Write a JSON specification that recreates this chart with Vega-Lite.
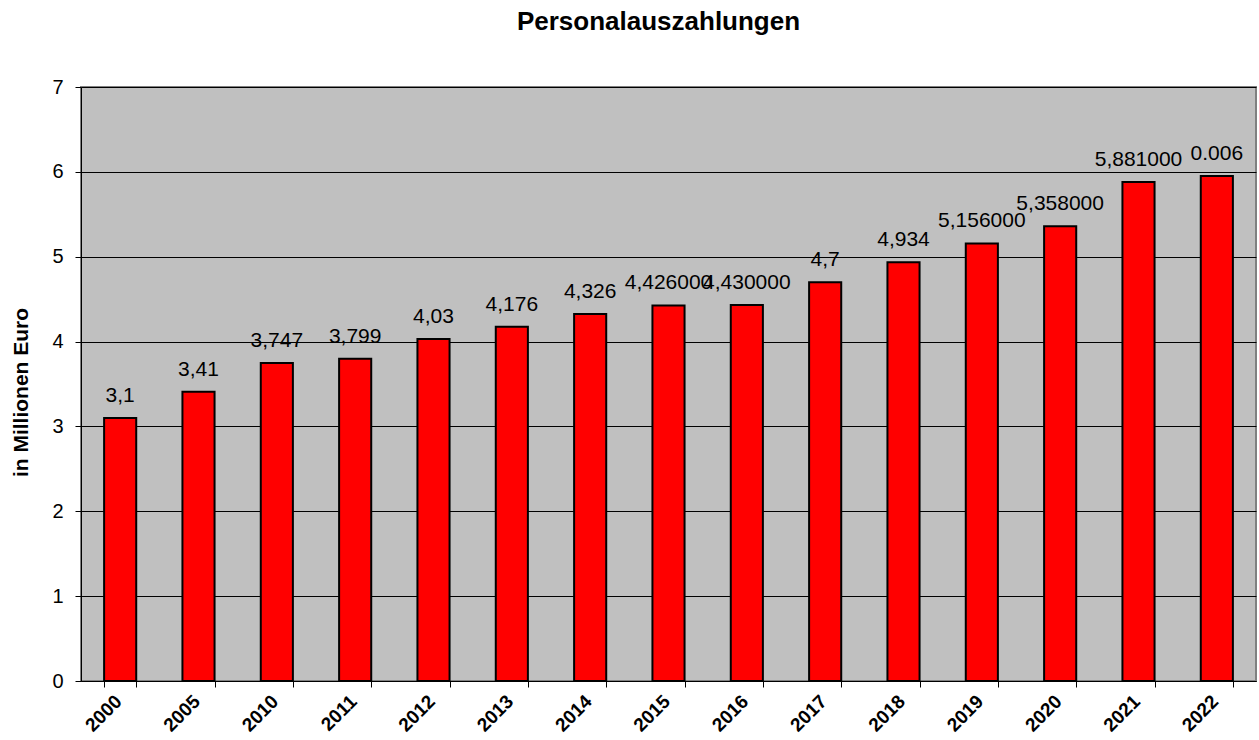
{
  "$schema": "https://vega.github.io/schema/vega-lite/v6.json",
  "width": 1175,
  "height": 594,
  "autosize": {"type": "none"},
  "padding": {"left": 81, "top": 87, "right": 3, "bottom": 59},
  "background": "white",
  "title": {
    "text": "Personalauszahlungen",
    "font": "Liberation Sans",
    "fontSize": 26,
    "fontWeight": "bold",
    "color": "black",
    "offset": 42,
    "dx": -10
  },
  "config": {
    "view": {"fill": "#C0C0C0", "stroke": "#808080", "strokeWidth": 2},
    "font": "Liberation Sans"
  },
  "data": {
    "values": [
      {"Jahr": "2000", "Wert": 3.1, "Label": "3,1"},
      {"Jahr": "2005", "Wert": 3.41, "Label": "3,41"},
      {"Jahr": "2010", "Wert": 3.747, "Label": "3,747"},
      {"Jahr": "2011", "Wert": 3.799, "Label": "3,799"},
      {"Jahr": "2012", "Wert": 4.03, "Label": "4,03"},
      {"Jahr": "2013", "Wert": 4.176, "Label": "4,176"},
      {"Jahr": "2014", "Wert": 4.326, "Label": "4,326"},
      {"Jahr": "2015", "Wert": 4.426, "Label": "4,426000"},
      {"Jahr": "2016", "Wert": 4.43, "Label": "4,430000"},
      {"Jahr": "2017", "Wert": 4.7, "Label": "4,7"},
      {"Jahr": "2018", "Wert": 4.934, "Label": "4,934"},
      {"Jahr": "2019", "Wert": 5.156, "Label": "5,156000"},
      {"Jahr": "2020", "Wert": 5.358, "Label": "5,358000"},
      {"Jahr": "2021", "Wert": 5.881, "Label": "5,881000"},
      {"Jahr": "2022", "Wert": 5.95, "Label": "0.006"}
    ]
  },
  "encoding": {
    "x": {
      "field": "Jahr",
      "type": "nominal",
      "sort": null,
      "scale": {"paddingInner": 0.59, "paddingOuter": 0.295},
      "axis": {
        "title": null,
        "labelAngle": -45,
        "labelAlign": "right",
        "labelBaseline": "middle",
        "labelFont": "Liberation Sans",
        "labelFontSize": 19,
        "labelFontWeight": "bold",
        "labelColor": "black",
        "labelPadding": 11,
        "labelOffset": -2,
        "tickBand": "extent",
        "tickColor": "black",
        "tickSize": 6,
        "domainColor": "black",
        "domainWidth": 1
      }
    },
    "y": {
      "field": "Wert",
      "type": "quantitative",
      "scale": {"domain": [0, 7], "nice": false},
      "axis": {
        "title": "in Millionen Euro",
        "titleFont": "Liberation Sans",
        "titleFontSize": 21,
        "titleFontWeight": "bold",
        "titleColor": "black",
        "titleAngle": -90,
        "titleX": -54,
        "titleY": 305,
        "titleAlign": "center",
        "titleBaseline": "alphabetic",
        "values": [0, 1, 2, 3, 4, 5, 6, 7],
        "labelFont": "Liberation Sans",
        "labelFontSize": 20,
        "labelColor": "black",
        "labelPadding": 12,
        "tickColor": "black",
        "tickSize": 6,
        "domainColor": "black",
        "domainWidth": 1,
        "grid": true,
        "gridColor": "black",
        "gridWidth": 1
      }
    }
  },
  "layer": [
    {
      "mark": {"type": "bar", "color": "#FF0000", "stroke": "black", "strokeWidth": 2}
    },
    {
      "mark": {
        "type": "text",
        "baseline": "alphabetic",
        "dy": -16,
        "font": "Liberation Sans",
        "fontSize": 21,
        "color": "black"
      },
      "encoding": {"text": {"field": "Label"}}
    }
  ]
}
